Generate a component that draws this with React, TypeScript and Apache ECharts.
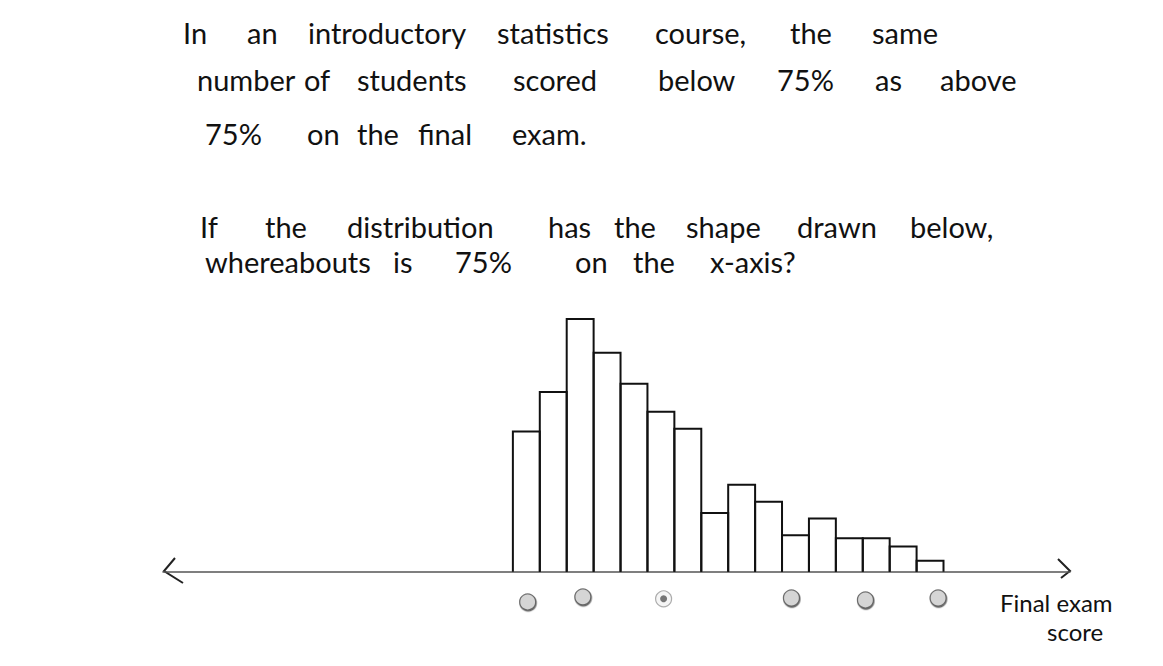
import React, { useEffect, useRef } from "react";
import * as echarts from "echarts";

// Histogram: 16 equal-width score bins, counts of students per bin
const binIndex = [0, 1, 2, 3, 4, 5, 6, 7, 8, 9, 10, 11, 12, 13, 14, 15];
const counts = [50, 64, 90, 78, 67, 57, 51, 21, 31, 25, 13, 19, 12, 12, 9, 4];

// Answer choices (radio buttons) placed along the x-axis
const choiceX = [0.55, 2.6, 5.6, 10.35, 13.1, 15.8];
const choiceY = [-10.7, -8.9, -9.6, -9.3, -10.0, -9.3];
const selectedChoice = 2;

// Question text, word by word (handwritten layout)
const questionLines: { words: string[]; xs: number[]; y: number }[] = [
  { words: ["In", "an", "introductory", "statistics", "course,", "the", "same"], xs: [183, 247, 308, 497, 655, 790, 872], y: 32 },
  { words: ["number", "of", "students", "scored", "below", "75%", "as", "above"], xs: [197, 304, 357, 513, 658, 777, 875, 940], y: 79 },
  { words: ["75%", "on", "the", "final", "exam."], xs: [205, 307, 357, 418, 512], y: 133 },
  { words: ["If", "the", "distribution", "has", "the", "shape", "drawn", "below,"], xs: [200, 265, 347, 548, 614, 686, 797, 910], y: 226 },
  { words: ["whereabouts", "is", "75%", "on", "the", "x-axis?"], xs: [205, 393, 455, 575, 633, 710], y: 261 },
];
const axisTitle = ["Final exam", "score"];

export default function App() {
  const ref = useRef<HTMLDivElement>(null);
  useEffect(() => {
    if (!ref.current) return;
    const chart = echarts.init(ref.current, null, { renderer: "svg" });
    const font = "Lato, 'Noto Sans', sans-serif";
    const textEls: any[] = [];
    questionLines.forEach((line) => {
      line.words.forEach((w, i) => {
        textEls.push({
          type: "text",
          x: line.xs[i],
          y: line.y,
          style: { text: w, fill: "#111", fontSize: 29, fontFamily: font, verticalAlign: "middle", align: "left" },
        });
      });
    });
    textEls.push({
      type: "text", x: 1000, y: 602,
      style: { text: axisTitle[0], fill: "#111", fontSize: 24, fontFamily: font, verticalAlign: "middle" },
    });
    textEls.push({
      type: "text", x: 1047, y: 631,
      style: { text: axisTitle[1], fill: "#111", fontSize: 24, fontFamily: font, verticalAlign: "middle" },
    });
    // open chevron arrowheads at both ends of the axis
    textEls.push({
      type: "polyline",
      shape: { points: [[175, 558], [164, 571], [183, 583]] },
      style: { stroke: "#222", lineWidth: 2, fill: null },
    });
    textEls.push({
      type: "polyline",
      shape: { points: [[1058, 559], [1070, 571], [1061, 578]] },
      style: { stroke: "#222", lineWidth: 2, fill: null },
    });

    chart.setOption({
      animation: false,
      backgroundColor: "#ffffff",
      grid: { left: 163, right: 93, top: 291, bottom: 52 },
      xAxis: {
        type: "value",
        min: -13,
        max: 20.7,
        axisLine: { show: true, onZero: true, lineStyle: { color: "#555", width: 1.5 } },
        axisTick: { show: false },
        axisLabel: { show: false },
        splitLine: { show: false },
      },
      yAxis: {
        type: "value",
        min: -15,
        max: 100,
        show: false,
        splitLine: { show: false },
      },
      graphic: textEls,
      series: [
        {
          type: "custom",
          name: "Students",
          data: binIndex.map((b, i) => [b, counts[i]]),
          encode: { x: 0, y: 1 },
          renderItem: (params: any, api: any) => {
            const b = api.value(0);
            const c = api.value(1);
            const p0 = api.coord([b, 0]);
            const p1 = api.coord([b + 1, c]);
            return {
              type: "polyline",
              shape: { points: [[p0[0], p0[1]], [p0[0], p1[1]], [p1[0], p1[1]], [p1[0], p0[1]]] },
              style: { stroke: "#111", lineWidth: 2, fill: null },
            };
          },
        },
        {
          type: "scatter",
          name: "choices",
          symbol: "circle",
          symbolSize: 16,
          data: choiceX.map((x, i) => ({
            value: [x, choiceY[i]],
            itemStyle: i === selectedChoice
              ? { color: "#f2f2f2", borderColor: "#999", borderWidth: 1.2 }
              : {
                  color: "#dddddd", borderColor: "#555", borderWidth: 1.2,
                  shadowColor: "rgba(0,0,0,0.7)", shadowBlur: 1, shadowOffsetX: 0.5, shadowOffsetY: 1.2,
                },
          })),
          z: 3,
        },
        {
          type: "scatter",
          name: "selected",
          symbol: "circle",
          symbolSize: 7,
          data: [[choiceX[selectedChoice], choiceY[selectedChoice]]],
          itemStyle: { color: "#555" },
          z: 4,
        },
      ],
    });
    return () => chart.dispose();
  }, []);
  return (
    <div
      ref={ref}
      style={{ position: "absolute", left: 0, top: 0, width: 1163, height: 666, background: "#fff" }}
    />
  );
}
